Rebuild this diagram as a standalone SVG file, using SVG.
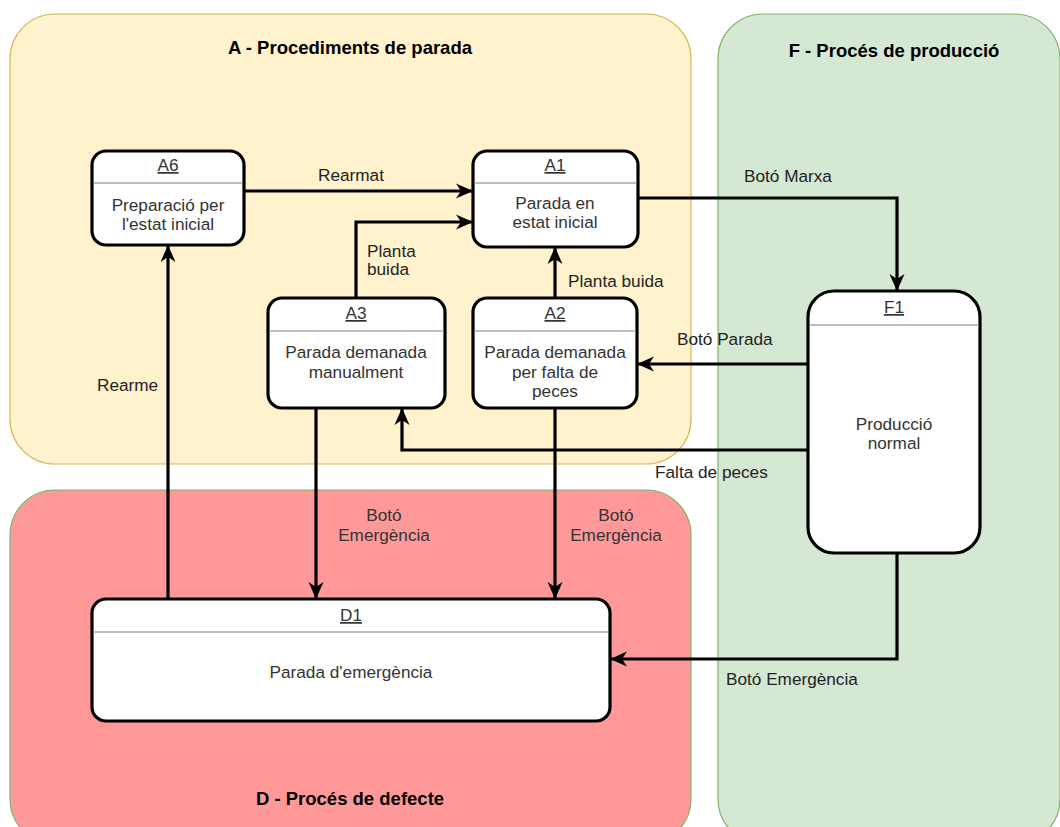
<svg xmlns="http://www.w3.org/2000/svg" width="1060" height="827" viewBox="0 0 1060 827">
<defs>
<style>
.t{font-family:"Liberation Sans",Arial,sans-serif;font-size:17.2px;fill:#333;text-anchor:middle}
.lbl{font-family:"Liberation Sans",Arial,sans-serif;font-size:17.2px;fill:#222}
.ttl{font-family:"Liberation Sans",Arial,sans-serif;font-size:18.5px;font-weight:bold;fill:#000;text-anchor:middle}
.hd{text-decoration:underline}
.box{fill:#fff;stroke:#000;stroke-width:3.2}
.sep{stroke:#aaa;stroke-width:1.5}
.c{fill:none;stroke:#000;stroke-width:3.2;marker-end:url(#arr)}
</style>
<marker id="arr" markerUnits="userSpaceOnUse" markerWidth="18" markerHeight="18" viewBox="0 0 18 18" refX="17" refY="9" orient="auto">
<path d="M0,1.5 L17,9 L0,16.5 L5,9 Z" fill="#000"/>
</marker>
</defs>
<rect width="1060" height="827" fill="#fff"/>
<g id="groupA">
<rect x="10" y="14" width="681" height="450" rx="45" fill="#fff2cc" stroke="#d6b656" stroke-width="1.2"/>
<text class="ttl" x="350" y="54">A - Procediments de parada</text>
</g>
<g id="groupF">
<rect x="718" y="14" width="342" height="830" rx="45" fill="#d5e8d4" stroke="#82b366" stroke-width="1.2"/>
<text class="ttl" x="894" y="57">F - Procés de producció</text>
</g>
<g id="groupD">
<rect x="10" y="490" width="681" height="354" rx="45" fill="#ff9999" stroke="#82b366" stroke-width="1.2"/>
<text class="ttl" x="350" y="805">D - Procés de defecte</text>
</g>
<g id="connectors">
<path class="c" d="M244,191 L473,191"/>
<text class="lbl" x="318" y="181">Rearmat</text>
<path class="c" d="M356,298 L356,222 L473,222"/>
<text class="lbl" x="367" y="257">Planta</text>
<text class="lbl" x="367" y="275">buida</text>
<path class="c" d="M555,298 L555,247"/>
<text class="lbl" x="568" y="287">Planta buida</text>
<path class="c" d="M638,198 L897,198 L897,291"/>
<text class="lbl" x="744" y="182">Botó Marxa</text>
<path class="c" d="M808,364 L637,364"/>
<text class="lbl" x="677" y="345">Botó Parada</text>
<path class="c" d="M808,450 L402,450 L402,408"/>
<text class="lbl" x="655" y="478">Falta de peces</text>
<path class="c" d="M316,408 L316,599"/>
<text class="t" x="384" y="521">Botó</text>
<text class="t" x="384" y="541">Emergència</text>
<path class="c" d="M555,408 L555,599"/>
<text class="t" x="616" y="521">Botó</text>
<text class="t" x="616" y="541">Emergència</text>
<path class="c" d="M897,553 L897,659 L610,659"/>
<text class="lbl" x="726" y="685">Botó Emergència</text>
<path class="c" d="M168,599 L168,245"/>
<text class="lbl" x="97" y="391">Rearme</text>
</g>
<g id="A6">
<rect class="box" x="92" y="151" width="152" height="94" rx="14"/>
<line class="sep" x1="93.5" y1="183" x2="242.5" y2="183"/>
<text class="t hd" x="168" y="171">A6</text>
<text class="t" x="168" y="211">Preparació per</text>
<text class="t" x="168" y="230">l'estat inicial</text>
</g>
<g id="A1">
<rect class="box" x="473" y="151" width="165" height="96" rx="14"/>
<line class="sep" x1="474.5" y1="183" x2="636.5" y2="183"/>
<text class="t hd" x="555" y="171">A1</text>
<text class="t" x="555" y="209">Parada en</text>
<text class="t" x="555" y="228">estat inicial</text>
</g>
<g id="A3">
<rect class="box" x="268" y="298" width="177" height="110" rx="14"/>
<line class="sep" x1="269.5" y1="331" x2="443.5" y2="331"/>
<text class="t hd" x="356" y="319">A3</text>
<text class="t" x="356" y="358">Parada demanada</text>
<text class="t" x="356" y="378">manualment</text>
</g>
<g id="A2">
<rect class="box" x="473" y="298" width="164" height="110" rx="14"/>
<line class="sep" x1="474.5" y1="331" x2="635.5" y2="331"/>
<text class="t hd" x="555" y="319">A2</text>
<text class="t" x="555" y="358">Parada demanada</text>
<text class="t" x="555" y="378">per falta de</text>
<text class="t" x="555" y="397">peces</text>
</g>
<g id="F1">
<rect class="box" x="808" y="291" width="172" height="262" rx="26"/>
<line class="sep" x1="809.5" y1="325" x2="978.5" y2="325"/>
<text class="t hd" x="894" y="313">F1</text>
<text class="t" x="894" y="430">Producció</text>
<text class="t" x="894" y="449">normal</text>
</g>
<g id="D1">
<rect class="box" x="92" y="599" width="518" height="122" rx="14"/>
<line class="sep" x1="93.5" y1="632" x2="608.5" y2="632"/>
<text class="t hd" x="351" y="621">D1</text>
<text class="t" x="351" y="678">Parada d'emergència</text>
</g>
</svg>
